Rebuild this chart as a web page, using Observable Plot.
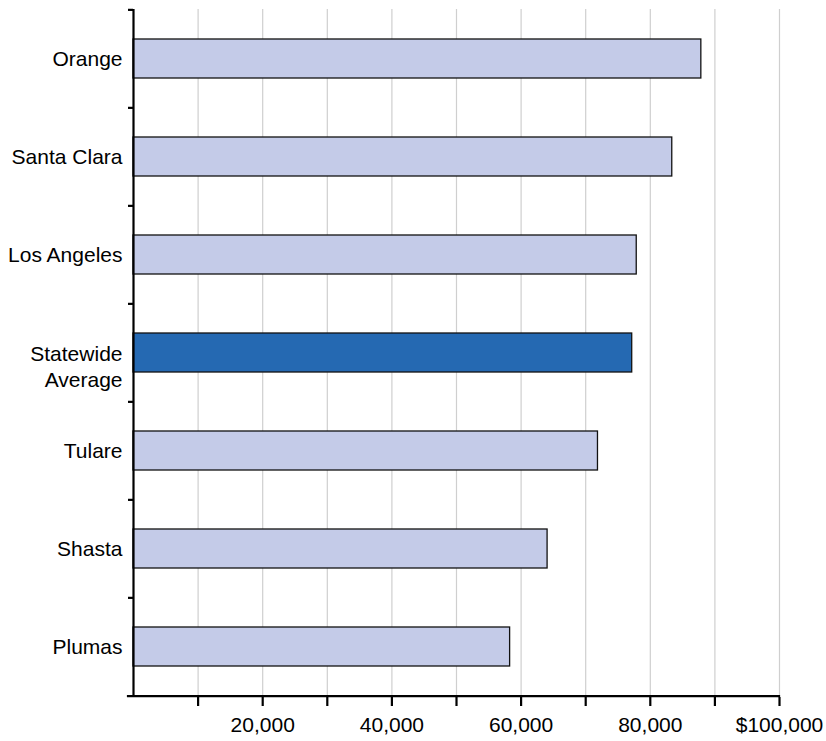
<!DOCTYPE html>
<html>
<head>
<meta charset="utf-8">
<script src="https://cdn.jsdelivr.net/npm/d3@7"></script>
<script src="https://cdn.jsdelivr.net/npm/@observablehq/plot@0.6"></script>
<style>
  body { margin: 0; background: #fff; }
  svg { display: block; }
</style>
</head>
<body>
<div id="chart"></div>
<script>
// ---- Data ----
const counties = ["Orange", "Santa Clara", "Los Angeles", "Statewide Average", "Tulare", "Shasta", "Plumas"];
const incomes = [87900, 83400, 77900, 77200, 71900, 64100, 58300];
const isAverage = [false, false, false, true, false, false, false];
const yTickLabels = ["Orange", "Santa Clara", "Los Angeles", "Statewide\nAverage", "Tulare", "Shasta", "Plumas"];
const xTickValues = [10000, 20000, 30000, 40000, 50000, 60000, 70000, 80000, 90000, 100000];
const xTickLabels = ["", "20,000", "", "40,000", "", "60,000", "", "80,000", "", "$100,000"];

const data = counties.map((c, i) => ({county: c, income: incomes[i], avg: isAverage[i]}));

// ---- Layout ----
const W = 826, H = 741;
const mTop = 9, mBottom = 44, mLeft = 133, mRight = 47;
const step = (H - mTop - mBottom) / counties.length;
const kx = (W - mLeft - mRight) / 100000;     // px per unit
const tickLenData = 5 / kx;                   // 5px tick in data units
const fs = 21, lh = 1.27;

const singleLine = counties.filter((c, i) => !yTickLabels[i].includes("\n"));
const multiLine = counties.filter((c, i) => yTickLabels[i].includes("\n"));
const yFmt = d => yTickLabels[counties.indexOf(d)];

const chart = Plot.plot({
  width: W,
  height: H,
  marginTop: mTop,
  marginBottom: mBottom,
  marginLeft: mLeft,
  marginRight: mRight,
  style: {fontFamily: "'Liberation Sans', Arial, Helvetica, sans-serif", fontSize: fs + "px", color: "#000", background: "#fff"},
  x: {domain: [0, 100000], label: null},
  y: {domain: counties, paddingInner: 0.6, paddingOuter: 0.3, label: null},
  marks: [
    // vertical gridlines
    Plot.ruleX(xTickValues, {stroke: "#cfcfcf", strokeWidth: 1.2}),
    // bars
    Plot.barX(data.filter(d => !d.avg), {x: "income", y: "county", fill: "#c4cbe8", stroke: "#111", strokeWidth: 1.3}),
    Plot.barX(data.filter(d => d.avg), {x: "income", y: "county", fill: "#2569b2", stroke: "#111", strokeWidth: 1.3}),
    // y axis line
    Plot.ruleX([0], {stroke: "#000", strokeWidth: 2.2}),
    // y band-boundary ticks
    Plot.ruleY(counties, {y: d => d, dy: -step / 2, x1: -tickLenData, x2: 0, stroke: "#000", strokeWidth: 2.2}),
    // x axis line (bottom boundary)
    Plot.ruleY([counties[counties.length - 1]], {y: d => d, dy: step / 2, x1: -tickLenData, x2: 100000, stroke: "#000", strokeWidth: 2.2, strokeLinecap: "square"}),
    // y labels
    Plot.axisY({ticks: singleLine, tickSize: 0, tickPadding: 11, fontSize: fs, tickFormat: yFmt}),
    Plot.axisY({ticks: multiLine, tickSize: 0, tickPadding: 11, fontSize: fs, lineHeight: lh, dy: fs * lh / 2 - 1, tickFormat: yFmt}),
    // x axis ticks and labels
    Plot.axisX({
      ticks: xTickValues,
      tickSize: 9,
      tickPadding: 11,
      strokeWidth: 2.2,
      fontSize: fs,
      tickFormat: d => xTickLabels[xTickValues.indexOf(d)]
    })
  ]
});

document.getElementById("chart").appendChild(chart);
</script>
</body>
</html>
